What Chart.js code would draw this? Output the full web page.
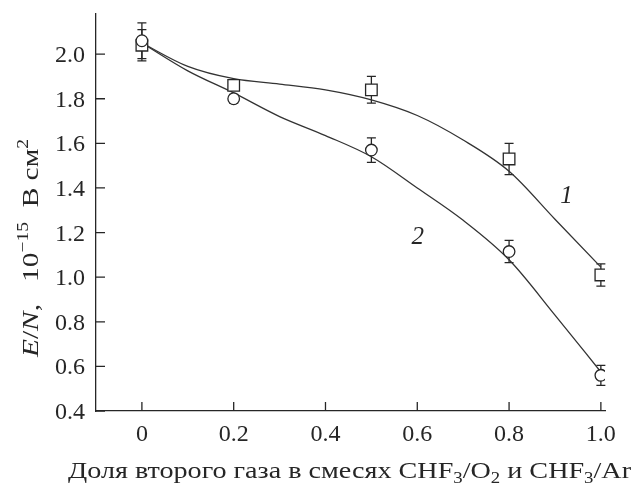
<!DOCTYPE html>
<html>
<head>
<meta charset="utf-8">
<script src="https://cdn.jsdelivr.net/npm/chart.js@4.4.1/dist/chart.umd.min.js"></script>
<style>
  html, body { margin: 0; padding: 0; background: #fff; }
  #wrap { width: 633px; height: 484px; }
</style>
</head>
<body>
<div id="wrap"><canvas id="chart" width="633" height="484"></canvas></div>
<script>
// measured points
const xPoints = [0, 0.2, 0.5, 0.8, 1.0]
const series1 = [2.04, 1.86, 1.84, 1.53, 1.01]
const errors1 = [0.07, 0.02, 0.06, 0.07, 0.05]
const series2 = [2.06, 1.80, 1.57, 1.115, 0.56]
const errors2 = [0.08, 0.02, 0.055, 0.05, 0.045]

// fitted curves
const fitX = [0, 0.1, 0.2, 0.3, 0.4, 0.5, 0.6, 0.7, 0.8, 0.9, 1.0]
const fit1 = [2.05, 1.945, 1.89, 1.866, 1.84, 1.795, 1.725, 1.615, 1.475, 1.26, 1.045]
const fit2 = [2.05, 1.925, 1.826, 1.72, 1.635, 1.54, 1.40, 1.255, 1.078, 0.83, 0.575]

const xTicks = [0, 0.2, 0.4, 0.6, 0.8, 1.0]
const xTickLabels = ["0", "0.2", "0.4", "0.6", "0.8", "1.0"]
const yTicks = [0.4, 0.6, 0.8, 1.0, 1.2, 1.4, 1.6, 1.8, 2.0]
const yTickLabels = ["0.4", "0.6", "0.8", "1.0", "1.2", "1.4", "1.6", "1.8", "2.0"]

const curveLabels = [
    {text: "1", x: 0.925, y: 1.36},
    {text: "2", x: 0.601, y: 1.18}
]

const ink = "#262626"
const serif = "'Liberation Serif', 'Times New Roman', serif"

function toXY(xs, ys) {
    return xs.map(function(x, i){ return {x: x, y: ys[i]} })
}

// draws a run of [text, font, shift] pieces stretched to a given width
function drawRuns(ctx, parts, x, y, width) {
    let total = 0
    parts.forEach(function(p){
        ctx.font = p[1] + " " + serif
        total += ctx.measureText(p[0]).width
    })
    const sx = width / total
    ctx.save()
    ctx.translate(x, y)
    ctx.scale(sx, 1)
    let cx = 0
    parts.forEach(function(p){
        ctx.font = p[1] + " " + serif
        ctx.fillText(p[0], cx, p[2])
        cx += ctx.measureText(p[0]).width
    })
    ctx.restore()
}

// error bars, inward ticks, tick labels, curve numbers and axis titles
const extras = {
    id: "extras",
    beforeDatasetsDraw(chart) {
        const ctx = chart.ctx
        const xs = chart.scales.x
        const ys = chart.scales.y
        ctx.save()
        ctx.strokeStyle = ink
        ctx.lineWidth = 1.3
        chart.data.datasets.forEach(function(ds){
            if (!ds.errors) return
            ds.data.forEach(function(p, i){
                const px = xs.getPixelForValue(p.x)
                const top = ys.getPixelForValue(p.y + ds.errors[i])
                const bot = ys.getPixelForValue(p.y - ds.errors[i])
                ctx.beginPath()
                ctx.moveTo(px, top); ctx.lineTo(px, bot)
                ctx.moveTo(px - 4.5, top); ctx.lineTo(px + 4.5, top)
                ctx.moveTo(px - 4.5, bot); ctx.lineTo(px + 4.5, bot)
                ctx.stroke()
            })
        })
        ctx.restore()
    },
    afterDraw(chart) {
        const ctx = chart.ctx
        const xs = chart.scales.x
        const ys = chart.scales.y
        const area = chart.chartArea
        ctx.save()
        ctx.strokeStyle = ink
        ctx.lineWidth = 1.3
        ctx.beginPath()
        xTicks.forEach(function(v){
            const px = xs.getPixelForValue(v)
            ctx.moveTo(px, area.bottom); ctx.lineTo(px, area.bottom - 9)
        })
        yTicks.forEach(function(v){
            const py = ys.getPixelForValue(v)
            ctx.moveTo(area.left, py); ctx.lineTo(area.left + 9, py)
        })
        ctx.stroke()

        ctx.fillStyle = ink
        ctx.font = "24px " + serif
        ctx.textAlign = "center"
        ctx.textBaseline = "alphabetic"
        xTicks.forEach(function(v, i){
            ctx.fillText(xTickLabels[i], xs.getPixelForValue(v), area.bottom + 30)
        })
        ctx.textAlign = "right"
        yTicks.forEach(function(v, i){
            ctx.fillText(yTickLabels[i], area.left - 11, ys.getPixelForValue(v) + 8)
        })

        ctx.textAlign = "center"
        ctx.textBaseline = "middle"
        ctx.font = "italic 25px " + serif
        curveLabels.forEach(function(l){
            ctx.fillText(l.text, xs.getPixelForValue(l.x), ys.getPixelForValue(l.y))
        })

        ctx.textAlign = "left"
        ctx.textBaseline = "alphabetic"
        // x title with subscripts
        drawRuns(ctx, [
            ["Доля второго газа в смесях CHF", "24px", 0], ["3", "16px", 5], ["/O", "24px", 0], ["2", "16px", 5],
            [" и CHF", "24px", 0], ["3", "16px", 5], ["/Ar", "24px", 0]
        ], 68, 478, 563)

        // y title, rotated, with superscripts
        const yWidth = 218
        ctx.translate(38, 248)
        ctx.rotate(-Math.PI / 2)
        drawRuns(ctx, [
            ["E", "italic 24px", 0], ["/", "24px", 0], ["N", "italic 24px", 0],
            [",   10", "24px", 0], ["\u221215", "16px", -10], ["  В см", "24px", 0], ["2", "16px", -10]
        ], -yWidth / 2, 0, yWidth)
        ctx.restore()
    }
}

const ctx = document.getElementById("chart").getContext("2d")

const myChart = new Chart(ctx, {
    type: "scatter",
    data: {
        datasets: [
            {
                label: "fit 1",
                data: toXY(fitX, fit1),
                showLine: true,
                borderColor: "#333",
                borderWidth: 1.3,
                pointRadius: 0,
                cubicInterpolationMode: "monotone",
                order: 2
            },
            {
                label: "fit 2",
                data: toXY(fitX, fit2),
                showLine: true,
                borderColor: "#333",
                borderWidth: 1.3,
                pointRadius: 0,
                cubicInterpolationMode: "monotone",
                order: 2
            },
            {
                label: "CHF3/O2",
                data: toXY(xPoints, series1),
                errors: errors1,
                pointStyle: "rect",
                pointRadius: 8.2,
                pointBackgroundColor: "#fff",
                pointBorderColor: ink,
                pointBorderWidth: 1.3,
                order: 1
            },
            {
                label: "CHF3/Ar",
                data: toXY(xPoints, series2),
                errors: errors2,
                pointStyle: "circle",
                pointRadius: 5.8,
                pointBackgroundColor: "#fff",
                pointBorderColor: ink,
                pointBorderWidth: 1.3,
                order: 0
            }
        ]
    },
    options: {
        responsive: false,
        animation: false,
        devicePixelRatio: 1,
        layout: { padding: { top: 14, right: 28, left: 0, bottom: 0 } },
        plugins: {
            legend: { display: false },
            tooltip: { enabled: false }
        },
        scales: {
            x: {
                type: "linear",
                min: -0.1,
                max: 1.009,
                afterBuildTicks: function(scale){
                    scale.ticks = xTicks.map(function(v){ return {value: v} })
                },
                afterFit: function(scale){ scale.height = 73 },
                grid: { display: false, drawTicks: false },
                border: { display: true, color: ink, width: 1.3 },
                ticks: { display: false }
            },
            y: {
                type: "linear",
                min: 0.4,
                max: 2.18,
                afterBuildTicks: function(scale){
                    scale.ticks = yTicks.map(function(v){ return {value: v} })
                },
                afterFit: function(scale){ scale.width = 96 },
                grid: { display: false, drawTicks: false },
                border: { display: true, color: ink, width: 1.3 },
                ticks: { display: false }
            }
        }
    },
    plugins: [extras]
});
</script>
</body>
</html>
